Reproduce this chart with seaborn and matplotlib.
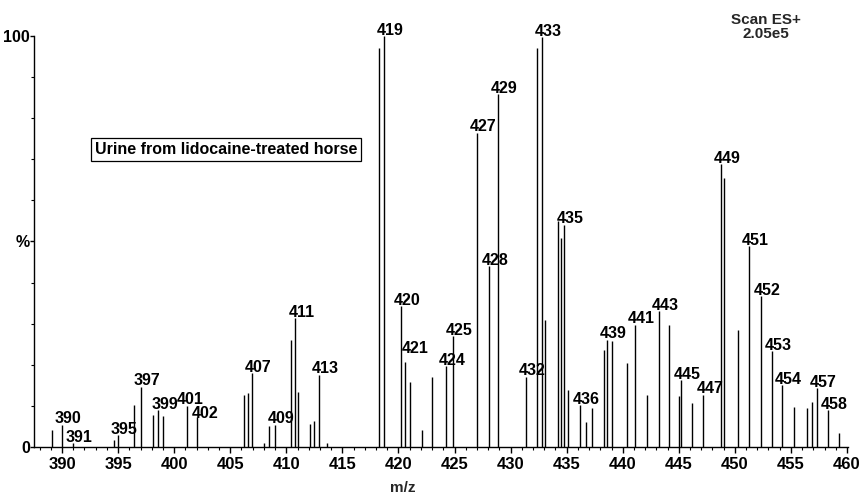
import numpy as np
import pandas as pd
import matplotlib
matplotlib.use("Agg")
import matplotlib.pyplot as plt
import seaborn as sns

# --- data (m/z, relative intensity %) ---
mz = [389.1, 390.0, 391.0, 394.6, 395.0, 396.4, 397.0, 398.1, 398.6, 399.0, 401.1, 402.0,
      406.2, 406.6, 406.9, 408.0, 408.5, 409.0, 410.4, 410.8, 411.0, 412.1, 412.5, 412.9, 413.6,
      418.3, 418.7, 420.2, 420.6, 421.0, 422.1, 423.0, 424.2, 424.9, 427.0, 428.1, 428.9,
      431.4, 432.4, 432.8, 433.1, 434.2, 434.5, 434.8, 435.1, 436.2, 436.7, 437.3,
      438.3, 438.6, 439.0, 440.4, 441.1, 442.2, 443.2, 444.1, 445.0, 445.2, 446.2, 447.2,
      448.8, 449.0, 450.3, 451.3, 452.3, 453.3, 454.2, 455.3, 456.4, 456.9, 457.3, 458.3, 459.3]
intensity = [4.1, 5.4, 1.0, 1.7, 2.9, 10.2, 14.7, 7.8, 9.0, 7.6, 10.0, 7.3,
             12.7, 13.1, 18.0, 1.0, 5.0, 5.4, 26.0, 31.4, 13.5, 5.6, 6.4, 17.6, 1.0,
             97.0, 100.0, 34.2, 20.8, 15.9, 4.1, 17.1, 19.6, 26.9, 76.5, 44.0, 85.9,
             17.1, 97.2, 99.7, 31.0, 55.0, 50.9, 54.1, 13.9, 10.2, 6.0, 9.4,
             23.7, 26.1, 25.7, 20.4, 29.8, 12.7, 33.0, 29.8, 12.3, 16.3, 10.6, 12.7,
             68.8, 65.5, 28.5, 48.9, 36.7, 23.3, 15.1, 9.8, 9.4, 11.0, 14.3, 9.0, 3.3]

# peak labels: text and the m/z of the line they sit on
label_text = ['390', '391', '395', '397', '399', '401', '402', '407', '409', '411', '413',
              '419', '420', '421', '424', '425', '427', '428', '429', '432', '433', '435',
              '436', '439', '441', '443', '445', '447', '449', '451', '452', '453', '454',
              '457', '458']
label_mz = [390.0, 391.0, 395.0, 397.0, 398.6, 401.1, 402.0, 406.9, 409.0, 410.8, 412.9,
            418.7, 420.2, 420.6, 424.2, 424.9, 427.0, 428.1, 428.9, 431.4, 432.8, 434.8,
            436.2, 438.6, 441.1, 443.2, 445.2, 447.2, 448.8, 451.3, 452.3, 453.3, 454.2,
            457.3, 458.3]

df = pd.DataFrame({'mz': mz, 'intensity': intensity})

sns.set_theme(style='ticks')
plt.rcParams['font.family'] = ['Liberation Sans', 'DejaVu Sans']

fig = plt.figure(figsize=(8.65, 4.95), dpi=100)
ax = fig.add_axes([34 / 865, 48 / 495, 814 / 865, 431.55 / 495])

ax.vlines(df['mz'], 0, df['intensity'], color='black', linewidth=1.0)

ax.set_xlim(387.5, 460.09)
ax.set_ylim(0, 105)
sns.despine(ax=ax)
ax.spines['left'].set_bounds(0, 100)
for side in ['left', 'bottom']:
    ax.spines[side].set_linewidth(1.0)
    ax.spines[side].set_color('black')

ax.set_xticks(np.arange(390, 461, 5))
ax.set_xticks(np.arange(388, 461, 1), minor=True)
ax.set_yticks([0, 50, 100])
ax.set_yticklabels(['0', '%', '100'])
ax.set_yticks(np.arange(10, 100, 10), minor=True)
ax.tick_params(axis='x', which='major', length=4, width=1, color='black',
               labelsize=12, pad=3)
ax.tick_params(axis='y', which='major', length=3, width=1, color='black',
               labelsize=11.5, pad=0)
ax.tick_params(axis='both', which='minor', length=2, width=0.8, color='black')
for t in ax.get_xticklabels() + ax.get_yticklabels():
    t.set_fontweight('bold')
    t.set_color('black')

peak_top = dict(zip(mz, intensity))
for txt, m in zip(label_text, label_mz):
    dx, dy = 4.5, 1
    if txt == '421':
        dx, dy = 7, 6
    elif txt == '401':
        dx, dy = 3, 1.5
    elif txt == '402':
        dx, dy = 6, -1
    ax.annotate(txt, (m, peak_top[m]), xytext=(dx, dy), textcoords='offset points',
                ha='center', va='baseline', fontsize=11.5, fontweight='bold', color='black')

ax.text(392.9, 72.3, 'Urine from lidocaine-treated horse', fontsize=11.5, fontweight='bold',
        va='center', ha='left', color='black',
        bbox=dict(boxstyle='square,pad=0.25', facecolor='white', edgecolor='black', linewidth=0.9))

fig.text(766 / 865, 1 - 27 / 495, 'Scan ES+\n2.05e5', ha='center', va='center',
         fontsize=11, fontweight='bold', linespacing=1.0)
fig.text(403 / 865, 1 - 488 / 495, 'm/z', ha='center', va='center',
         fontsize=11, fontweight='bold')

fig.savefig('out.png', dpi=100)
